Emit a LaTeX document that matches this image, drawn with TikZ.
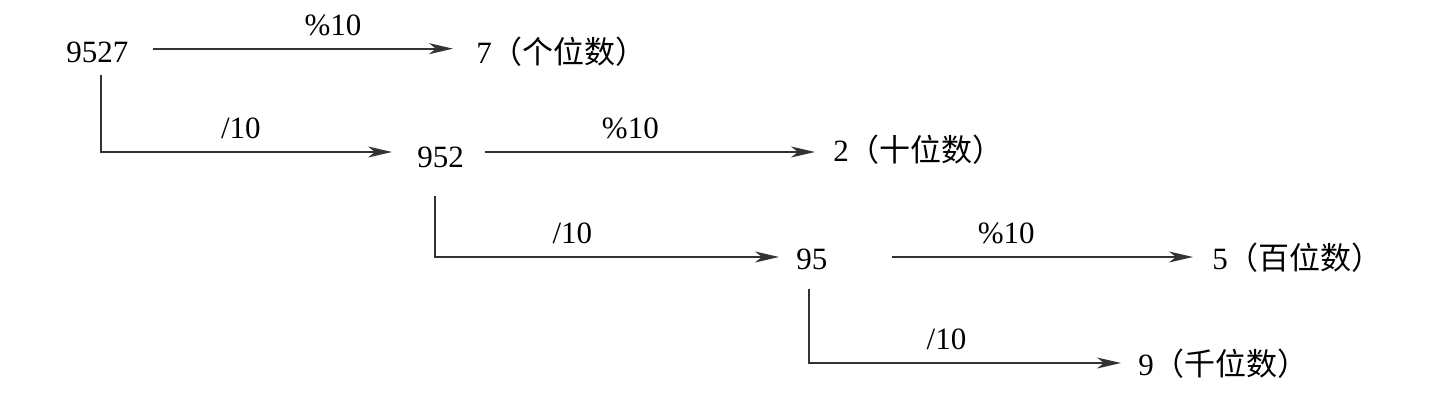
\documentclass[tikz,border=0pt]{standalone}
\usepackage{fontspec}
\setmainfont{Liberation Serif}
\newfontfamily\cjk{Noto Sans CJK SC}
\usetikzlibrary{arrows.meta,calc}
\tikzstyle{num}=[inner sep=0pt, anchor=base west, font=\fontsize{15.5}{18}\selectfont]
\tikzstyle{res}=[num]
\tikzstyle{lbl}=[inner sep=0pt, above=6pt, font=\fontsize{15.5}{18}\selectfont]
\tikzstyle{arr}=[-{Stealth[length=12pt, width=5.5pt, inset=3.5pt]}, line width=1pt, draw=black!80]

\begin{document}
\begin{tikzpicture}[x=0.5pt, y=-0.5pt]
  \useasboundingbox (0,0) rectangle (1435,411);

  % Numbers being split
  \node[num] (n9527) at (66,62.7) {9527};
  \node[num] (n952)  at (417,168) {952};
  \node[num] (n95)   at (796,270) {95};

  % Digits taken off
  \node[res] (d1) at (476,64)    {7\cjk（个位数）};
  \node[res] (d2) at (833,161.7) {2\cjk（十位数）};
  \node[res] (d3) at (1212,270)  {5\cjk（百位数）};
  \node[res] (d4) at (1138,375)  {9\cjk（千位数）};

  % %10 branches
  \draw[arr] ($(n9527.base east)+(24,-14)$) -- ($(n9527.base east -| d1.west)+(-23,-14)$) node[lbl, pos=.6] {\%10};
  \draw[arr] ($(n952.base east)+(21,-16)$) -- ($(n952.base east -| d2.west)+(-18,-16)$) node[lbl, pos=.44] {\%10};
  \draw[arr] ($(n95.base east)+(64,-13)$) -- ($(n95.base east -| d3.west)+(-19,-13)$) node[lbl, pos=.38] {\%10};

  % /10 branches
  \draw[arr] ($(n9527.base)+(4,12)$) |- ($(n952.base west)+(-25,-16)$) node[lbl, pos=.74] {/10};
  \draw[arr] ($(n952.base)+(-6,28)$) |- ($(n95.base west)+(-17,-13)$) node[lbl, pos=.7] {/10};
  \draw[arr] ($(n95.base)+(-2.5,19)$) |- ($(d4.base west)+(-17,-12)$) node[lbl, pos=.72] {/10};
\end{tikzpicture}
\end{document}
